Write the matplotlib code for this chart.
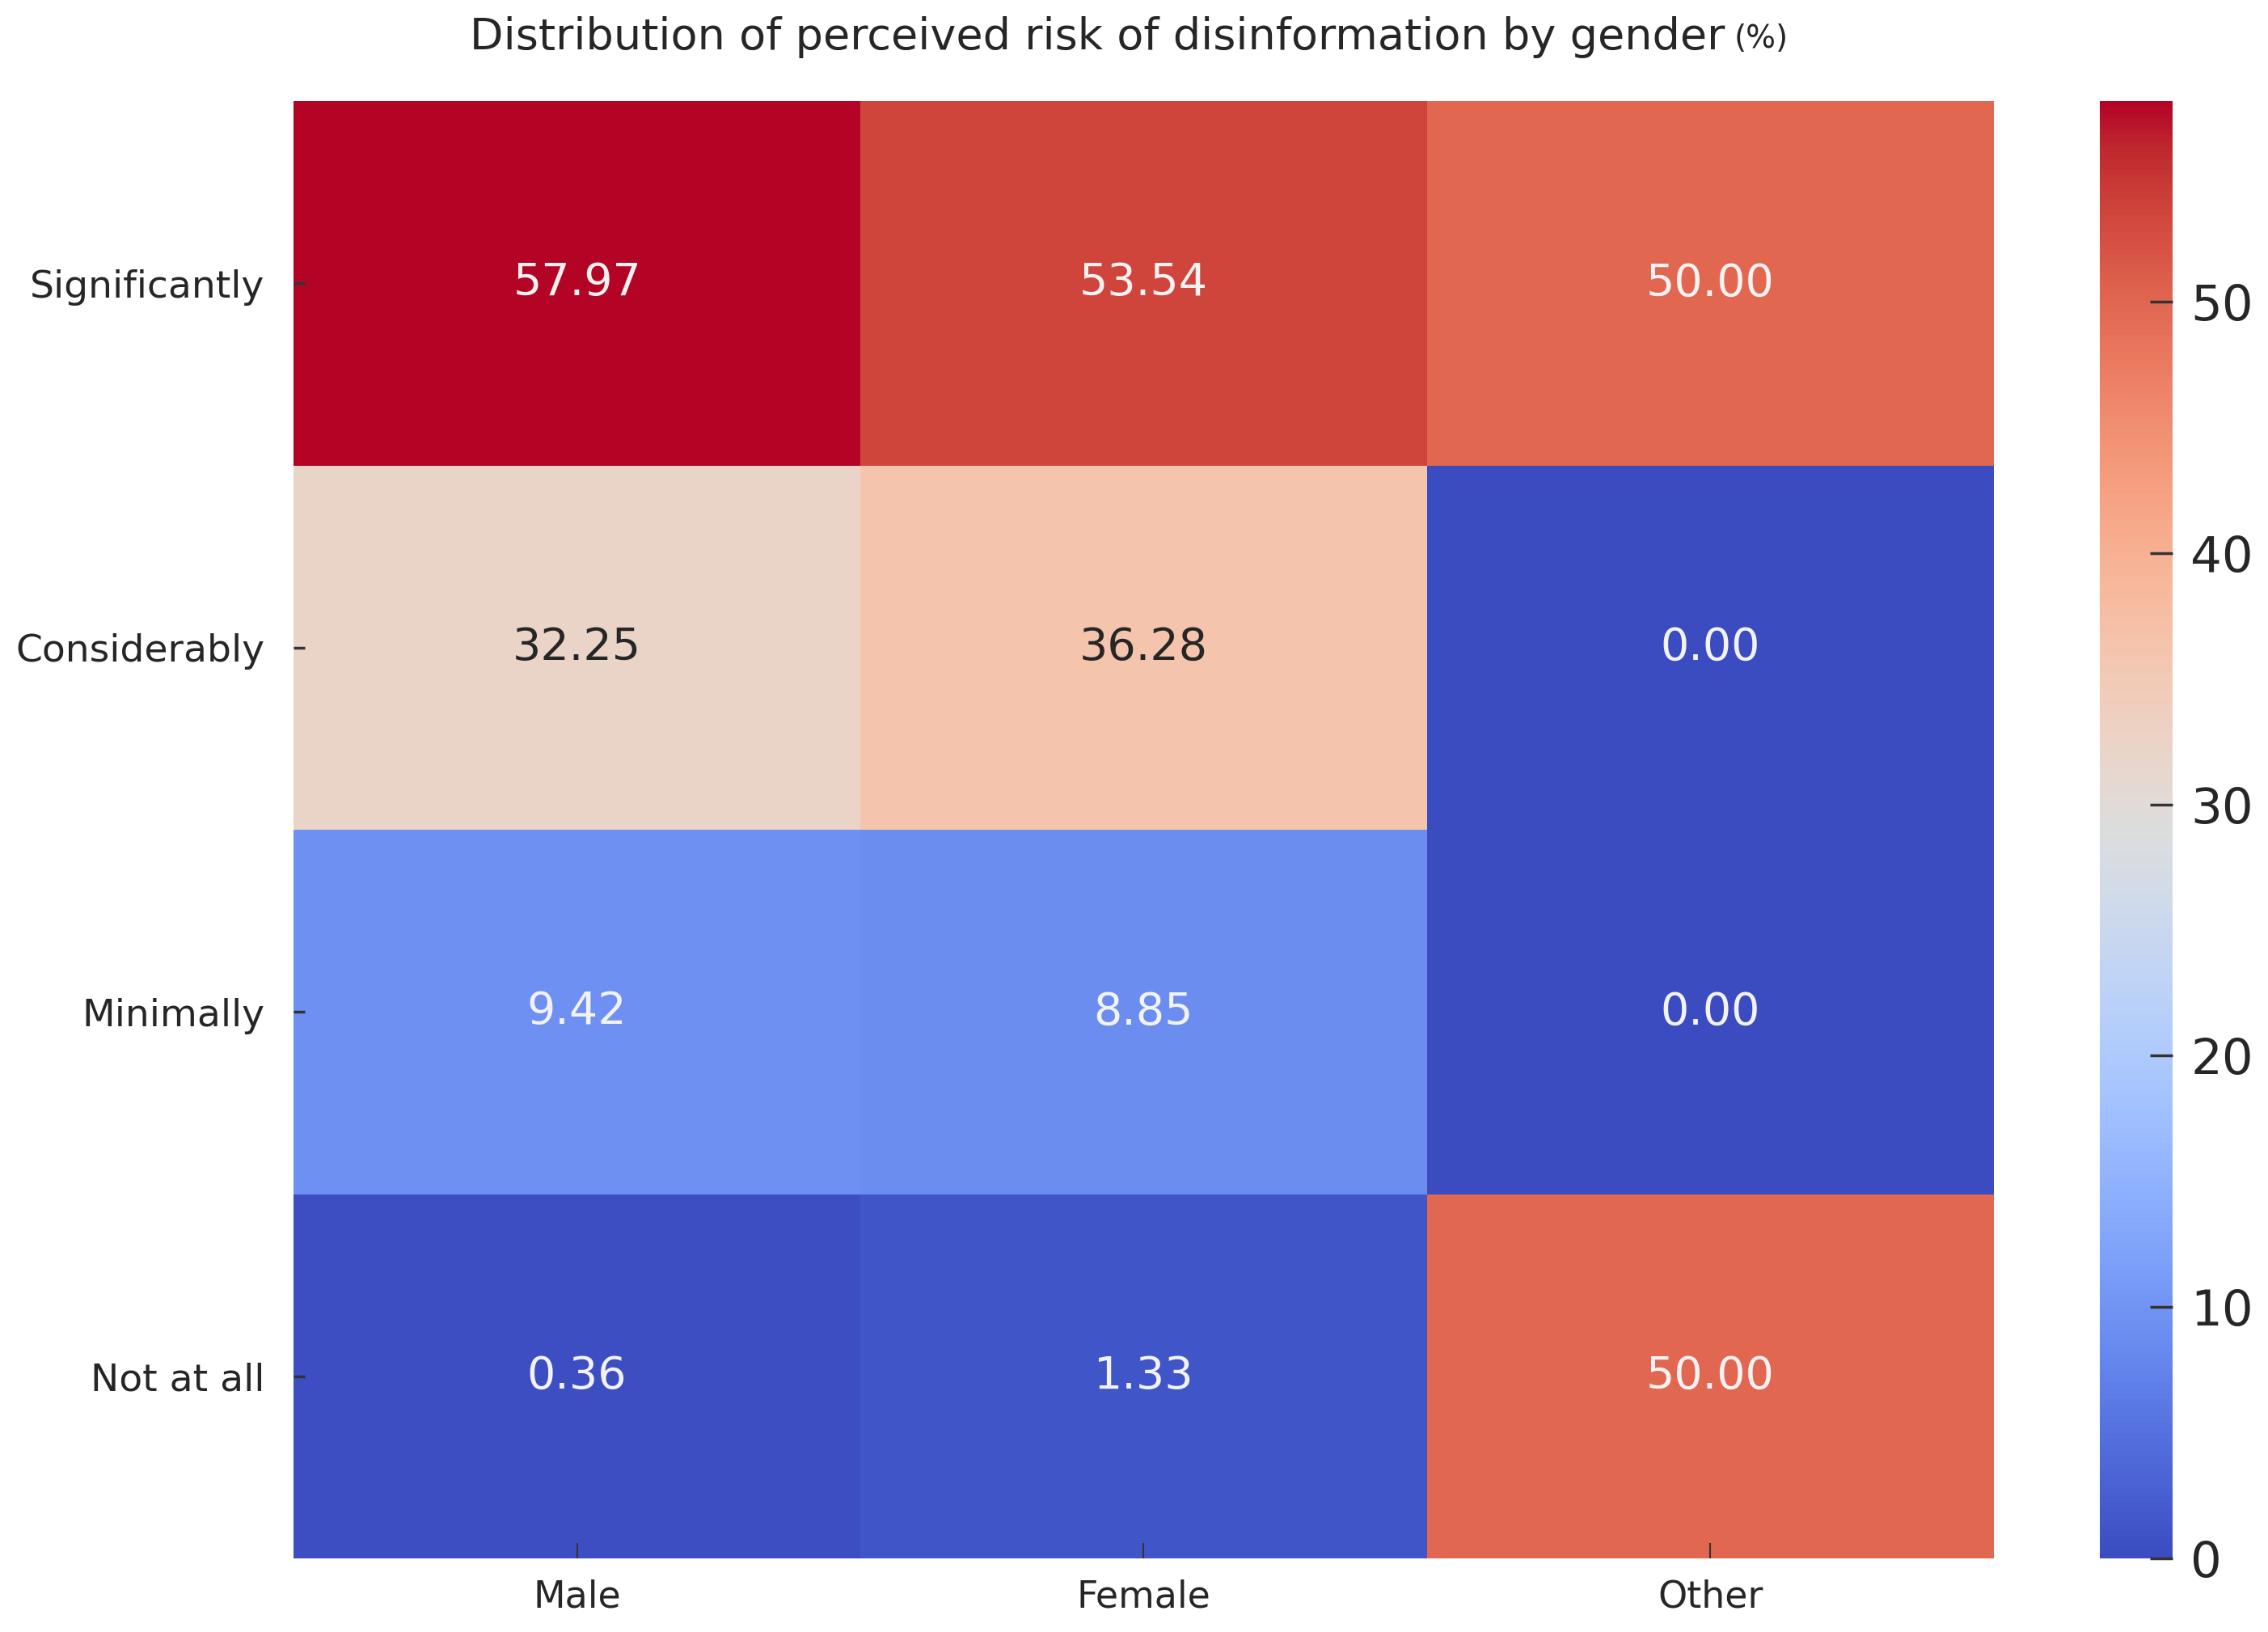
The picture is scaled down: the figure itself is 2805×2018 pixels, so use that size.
import matplotlib
matplotlib.use("Agg")
import matplotlib.pyplot as plt
import numpy as np

# Data
risk_levels = ["Significantly", "Considerably", "Minimally", "Not at all"]
genders = ["Male", "Female", "Other"]
male = [57.97, 32.25, 9.42, 0.36]
female = [53.54, 36.28, 8.85, 1.33]
other = [50.00, 0.00, 0.00, 50.00]
cbar_ticks = [0, 10, 20, 30, 40, 50]
title_main = "Distribution of perceived risk of disinformation by gender"
title_unit = "(%)"

values = np.array([male, female, other]).T  # rows: risk levels, cols: genders

plt.rcParams['font.family'] = ['DejaVu Sans']
fig = plt.figure(figsize=(28.05, 20.18), dpi=100)
ax = fig.add_axes([0.1295, 0.045, 0.7495, 0.893])
cax = fig.add_axes([0.926, 0.045, 0.032, 0.893])

cmap = plt.get_cmap('coolwarm')
vmin, vmax = 0, values.max()
mesh = ax.pcolormesh(values, cmap=cmap, vmin=vmin, vmax=vmax)
ax.set_xlim(0, len(genders))
ax.set_ylim(len(risk_levels), 0)

norm = plt.Normalize(vmin, vmax)
for i in range(len(risk_levels)):
    for j in range(len(genders)):
        v = values[i, j]
        r, g, b, _ = cmap(norm(v))
        lum = 0.2126 * r + 0.7152 * g + 0.0722 * b
        color = '#262626' if lum > 0.6 else '#f2f2f2'
        ax.text(j + 0.5, i + 0.5, f"{v:.2f}", ha='center', va='center',
                fontsize=40, color=color)

ax.set_xticks(np.arange(len(genders)) + 0.5)
ax.set_xticklabels(genders, fontsize=33, color='#262626')
ax.set_yticks(np.arange(len(risk_levels)) + 0.5)
ax.set_yticklabels(risk_levels, fontsize=34, color='#262626')
ax.tick_params(axis='x', direction='in', length=14, width=1.5, pad=18, color='#333333')
ax.tick_params(axis='y', direction='in', length=10, width=2.5, pad=26, color='#333333')
for s in ax.spines.values():
    s.set_visible(False)

cb = fig.colorbar(mesh, cax=cax, ticks=cbar_ticks)
cb.outline.set_visible(False)
cax.tick_params(direction='in', length=20, width=2.5, pad=16, labelsize=44,
                labelcolor='#262626', color='#333333')

# Title with smaller unit
t = fig.text(0.207, 0.977, title_main, ha='left', va='center', fontsize=39, color='#262626')
fig.canvas.draw()
bb = t.get_window_extent(renderer=fig.canvas.get_renderer())
x_end = bb.x1 / fig.bbox.width
fig.text(x_end + 0.004, 0.976, title_unit, ha='left', va='center', fontsize=28, color='#262626')

fig.savefig("out.png", dpi=100)
